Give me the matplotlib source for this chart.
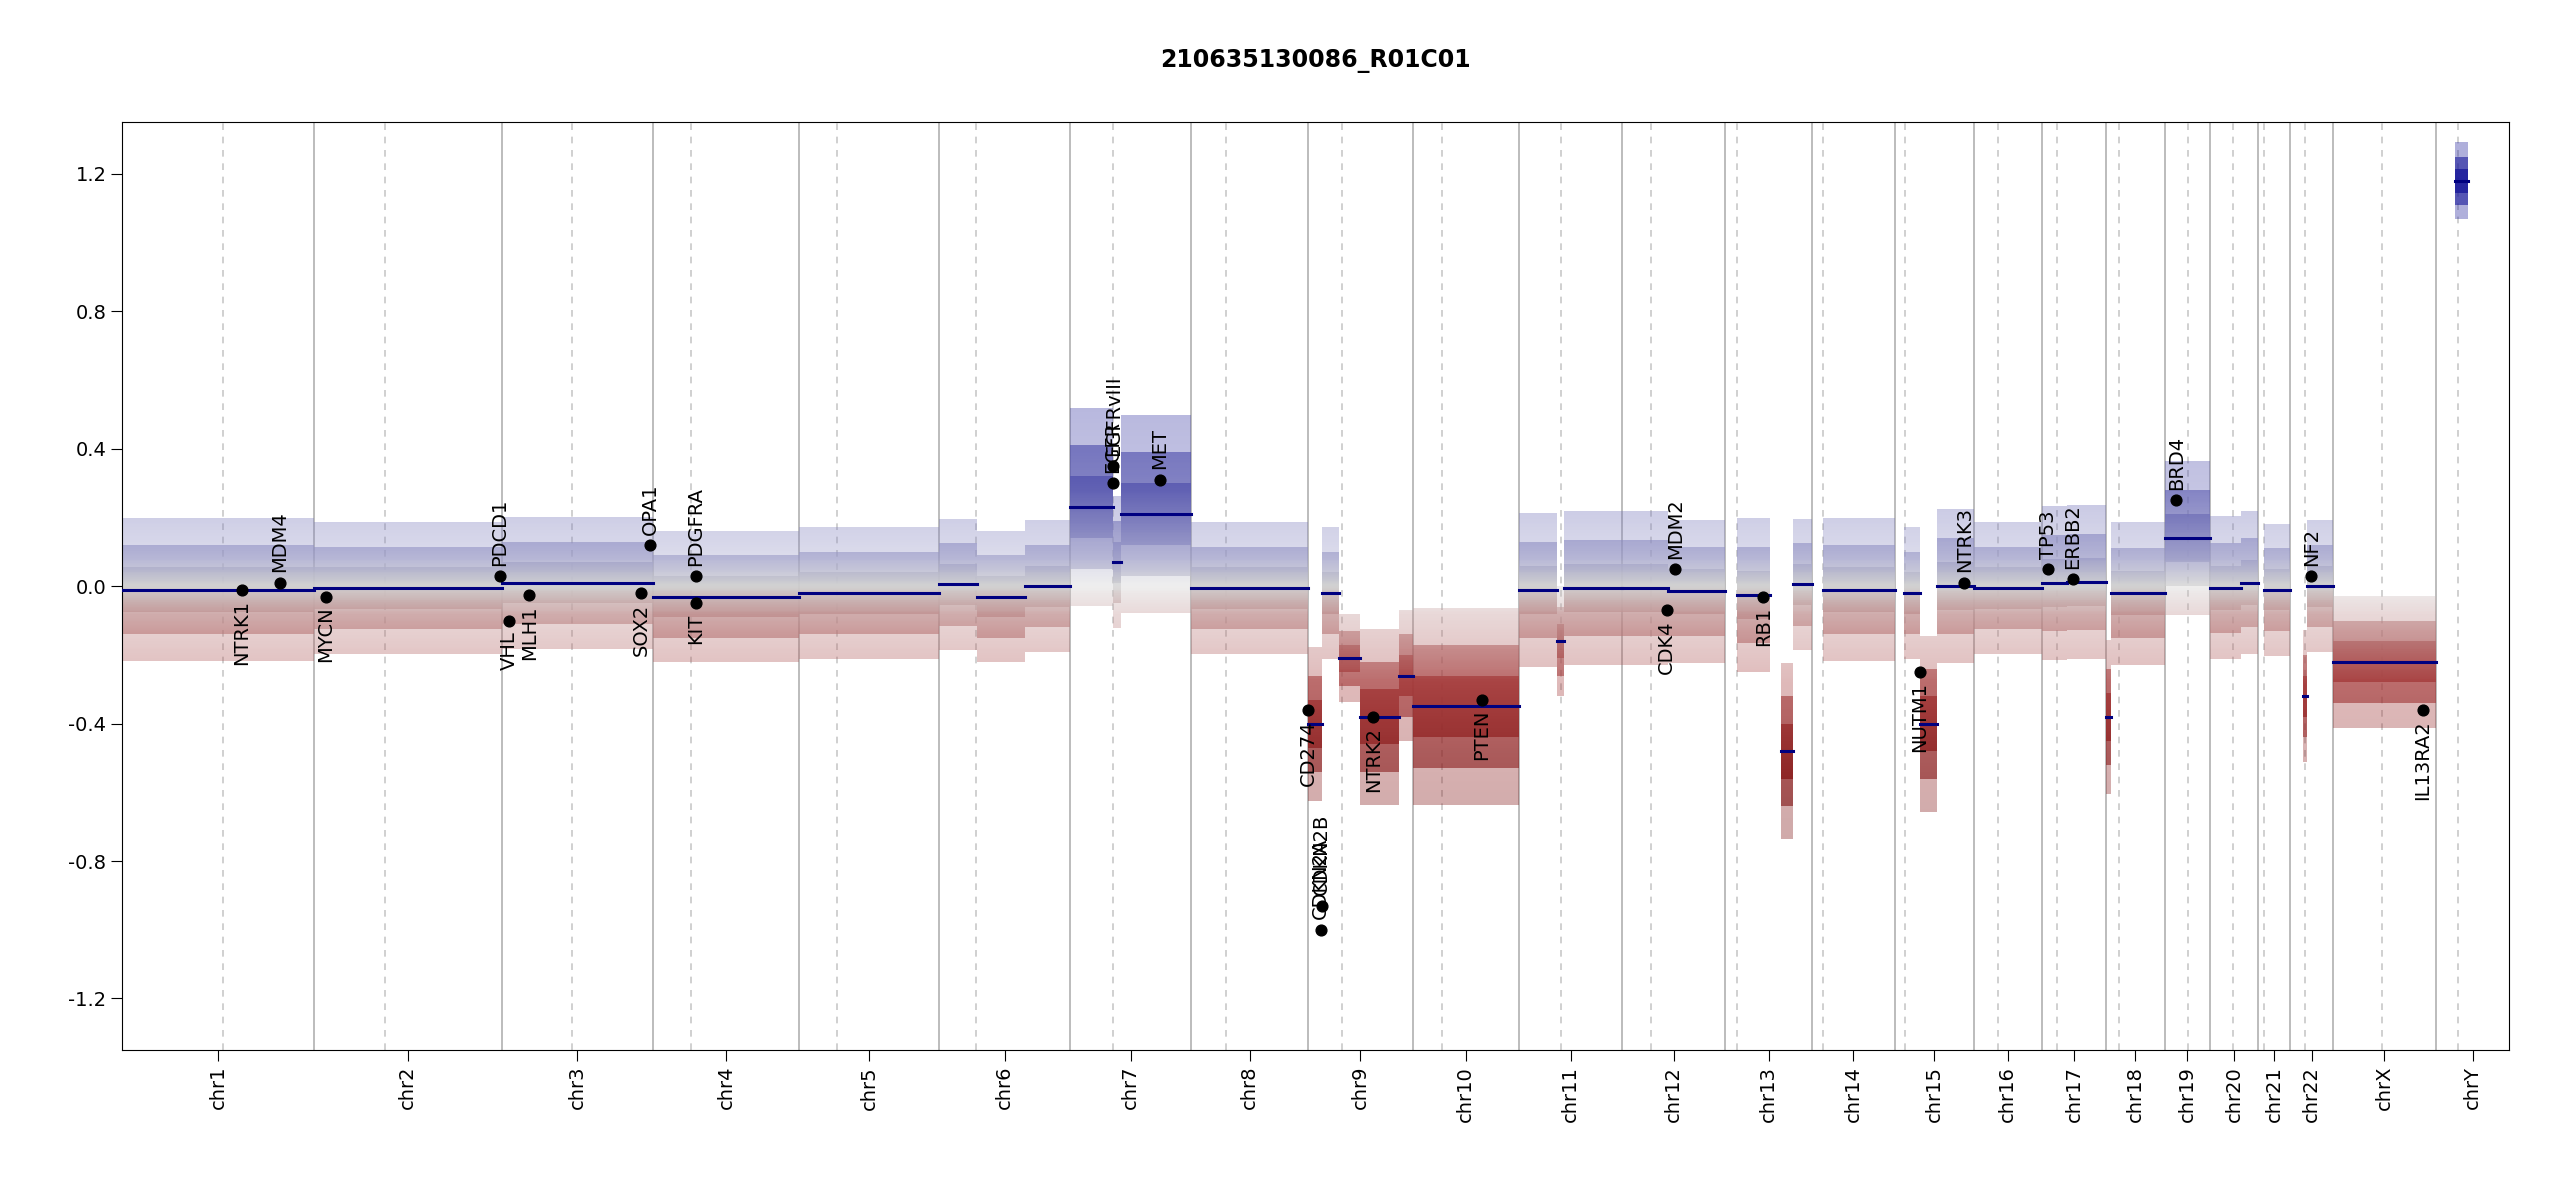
import matplotlib
import numpy as np

matplotlib.use("Agg")
import matplotlib.pyplot as plt
from matplotlib.colors import LinearSegmentedColormap
from matplotlib.path import Path
from matplotlib.patches import PathPatch

chroms = [f"chr{i}" for i in range(1, 23)] + ["chrX", "chrY"]
# plotted chromosome widths (Mb) and centromere positions
chrom_len = [248, 244, 197, 189, 182, 170, 157, 151, 136, 138,
             134, 134, 112, 108, 102, 89, 83, 76, 59, 62,
             42, 55, 134, 95]
centromere = [131, 93, 91, 49, 49, 47, 55, 45, 45, 38,
              55, 38, 15, 15, 13, 32, 19, 17, 30, 30,
              8, 19, 64, 28]

# segments: chromosome, start (Mb), end (Mb), mean, spread of bins
seg_chr = ["chr1", "chr2", "chr3", "chr4", "chr5", "chr6", "chr6", "chr6",
           "chr7", "chr7", "chr7", "chr8", "chr9", "chr9", "chr9", "chr9", "chr9",
           "chr10", "chr11", "chr11", "chr11", "chr12", "chr12",
           "chr13", "chr13", "chr13", "chr14", "chr15", "chr15", "chr15", "chr16",
           "chr17", "chr17", "chr18", "chr18", "chr19", "chr20", "chr20", "chr21",
           "chr22", "chr22", "chrX", "chrY"]
seg_start = [0, 0, 0, 0, 0, 0, 49, 111,
             0, 56, 66, 0, 0, 19, 40, 68, 118,
             0, 0, 49, 58, 0, 60,
             15, 72, 88, 15, 12, 32, 54, 0,
             0, 32, 0, 6, 0, 0, 40, 8,
             17, 22, 0, 25]
seg_end = [248, 244, 197, 189, 182, 49, 111, 170,
           56, 66, 157, 151, 19, 40, 68, 118, 136,
           138, 49, 58, 134, 60, 134,
           58, 88, 112, 108, 32, 54, 102, 89,
           32, 83, 6, 76, 59, 40, 62, 42,
           22, 55, 134, 42]
seg_mean = [-0.01, -0.005, 0.01, -0.03, -0.02, 0.005, -0.03, 0.0,
            0.23, 0.07, 0.21, -0.005, -0.40, -0.02, -0.21, -0.38, -0.26,
            -0.35, -0.01, -0.16, -0.005, -0.005, -0.015,
            -0.025, -0.48, 0.005, -0.01, -0.02, -0.40, 0.0, -0.005,
            0.01, 0.012, -0.38, -0.02, 0.14, -0.005, 0.01, -0.01,
            -0.32, 0.0, -0.22, 1.18]
seg_spread = [0.13, 0.12, 0.12, 0.12, 0.12, 0.12, 0.12, 0.12,
              0.18, 0.12, 0.18, 0.12, 0.14, 0.12, 0.08, 0.16, 0.12,
              0.18, 0.14, 0.1, 0.14, 0.14, 0.13,
              0.14, 0.16, 0.12, 0.13, 0.12, 0.16, 0.14, 0.12,
              0.14, 0.14, 0.14, 0.13, 0.14, 0.13, 0.13, 0.12,
              0.12, 0.12, 0.12, 0.07]

gene_name = ["NTRK1", "MDM4", "MYCN", "PDCD1", "VHL", "MLH1", "SOX2", "OPA1",
             "KIT", "PDGFRA", "EGFR", "EGFRvIII", "MET", "CD274", "CDKN2A",
             "CDKN2B", "NTRK2", "PTEN", "CDK4", "MDM2", "RB1", "NUTM1", "NTRK3",
             "TP53", "ERBB2", "BRD4", "NF2", "IL13RA2"]
gene_chr = ["chr1", "chr1", "chr2", "chr2", "chr3", "chr3", "chr3", "chr3",
            "chr4", "chr4", "chr7", "chr7", "chr7", "chr9", "chr9",
            "chr9", "chr9", "chr10", "chr12", "chr12", "chr13", "chr15", "chr15",
            "chr17", "chr17", "chr19", "chr22", "chrX"]
gene_pos = [155, 204, 16, 242, 10, 36, 181, 193,
            55, 55, 55, 56, 116, 1, 17,
            18, 85, 90, 58, 69, 49, 32, 90,
            8, 40, 15, 27, 117]
gene_val = [-0.01, 0.01, -0.03, 0.03, -0.1, -0.025, -0.02, 0.12,
            -0.05, 0.03, 0.30, 0.35, 0.31, -0.36, -1.0,
            -0.93, -0.38, -0.33, -0.07, 0.05, -0.03, -0.25, 0.01,
            0.05, 0.02, 0.25, 0.03, -0.36]
gene_up = [False, True, False, True, False, False, False, True,
           False, True, True, True, True, False, True,
           True, False, False, False, True, False, False, True,
           True, True, True, True, False]

offsets = np.concatenate([[0], np.cumsum(chrom_len)])
cidx = {c: i for i, c in enumerate(chroms)}
gx = lambda c, p: offsets[cidx[c]] + p

fig = plt.figure(figsize=(25.5, 12), dpi=100)
ax = fig.add_axes([0.048, 0.125, 0.936, 0.773])
xmax = offsets[-1]
ax.set_xlim(0, xmax)
ax.set_ylim(-1.35, 1.35)

cmap = LinearSegmentedColormap.from_list(
    "cnv", [(0.0, "#7a0c0c"), (0.3, "#a53a3a"), (0.44, "#c09090"),
            (0.5, "#d0d0d0"), (0.56, "#9c9cc8"), (0.7, "#5a5ab0"), (1.0, "#1a1a9a")])
grad = np.linspace(-1.35, 1.35, 400).reshape(-1, 1)

# bins cloud: layered bands around each segment, denser near the mean
for scale, alpha in [(1.6, 0.35), (1.0, 0.6), (0.5, 0.8)]:
    im = ax.imshow(np.clip(grad, -0.7, 0.7), cmap=cmap, vmin=-0.7, vmax=0.7, alpha=alpha,
                   extent=[0, xmax, -1.35, 1.35], origin="lower", aspect="auto", zorder=1)
    rects = []
    for c, s, e, m, sp in zip(seg_chr, seg_start, seg_end, seg_mean, seg_spread):
        x0, x1 = gx(c, s), gx(c, e)
        h = sp * scale
        rects.append(Path([(x0, m - h), (x1, m - h), (x1, m + h), (x0, m + h), (x0, m - h)],
                          [Path.MOVETO, Path.LINETO, Path.LINETO, Path.LINETO, Path.CLOSEPOLY]))
    clip = PathPatch(Path.make_compound_path(*rects), transform=ax.transData,
                     facecolor="none", edgecolor="none")
    ax.add_patch(clip)
    im.set_clip_path(clip)

for i in range(1, len(chroms)):
    ax.axvline(offsets[i], color="#b0b0b0", lw=1.2, zorder=0)
for i in range(len(chroms)):
    ax.axvline(offsets[i] + centromere[i], color="#c8c8c8", lw=1.2, ls=(0, (4, 4)), zorder=0)

for c, s, e, m in zip(seg_chr, seg_start, seg_end, seg_mean):
    ax.plot([gx(c, s), gx(c, e)], [m, m], color="#000080", lw=2.2, zorder=3)

for n, c, p, v, up in zip(gene_name, gene_chr, gene_pos, gene_val, gene_up):
    x = gx(c, p)
    ax.scatter(x, v, s=60, color="black", zorder=5)
    if up:
        ax.text(x, v + 0.03, n, rotation=90, ha="center", va="bottom", fontsize=14, zorder=6)
    else:
        ax.text(x, v - 0.03, n, rotation=90, ha="center", va="top", fontsize=14, zorder=6)

centers = offsets[:-1] + np.array(chrom_len) / 2
ax.set_xticks(centers)
ax.set_xticklabels(chroms, rotation=90, fontsize=14)
ax.set_yticks([-1.2, -0.8, -0.4, 0.0, 0.4, 0.8, 1.2])
ax.set_yticklabels(["-1.2", "-0.8", "-0.4", "0.0", "0.4", "0.8", "1.2"], fontsize=14)
ax.tick_params(length=8)
ax.set_title("210635130086_R01C01", fontsize=17, fontweight="bold", pad=40)
fig.savefig("out.png", dpi=100)
